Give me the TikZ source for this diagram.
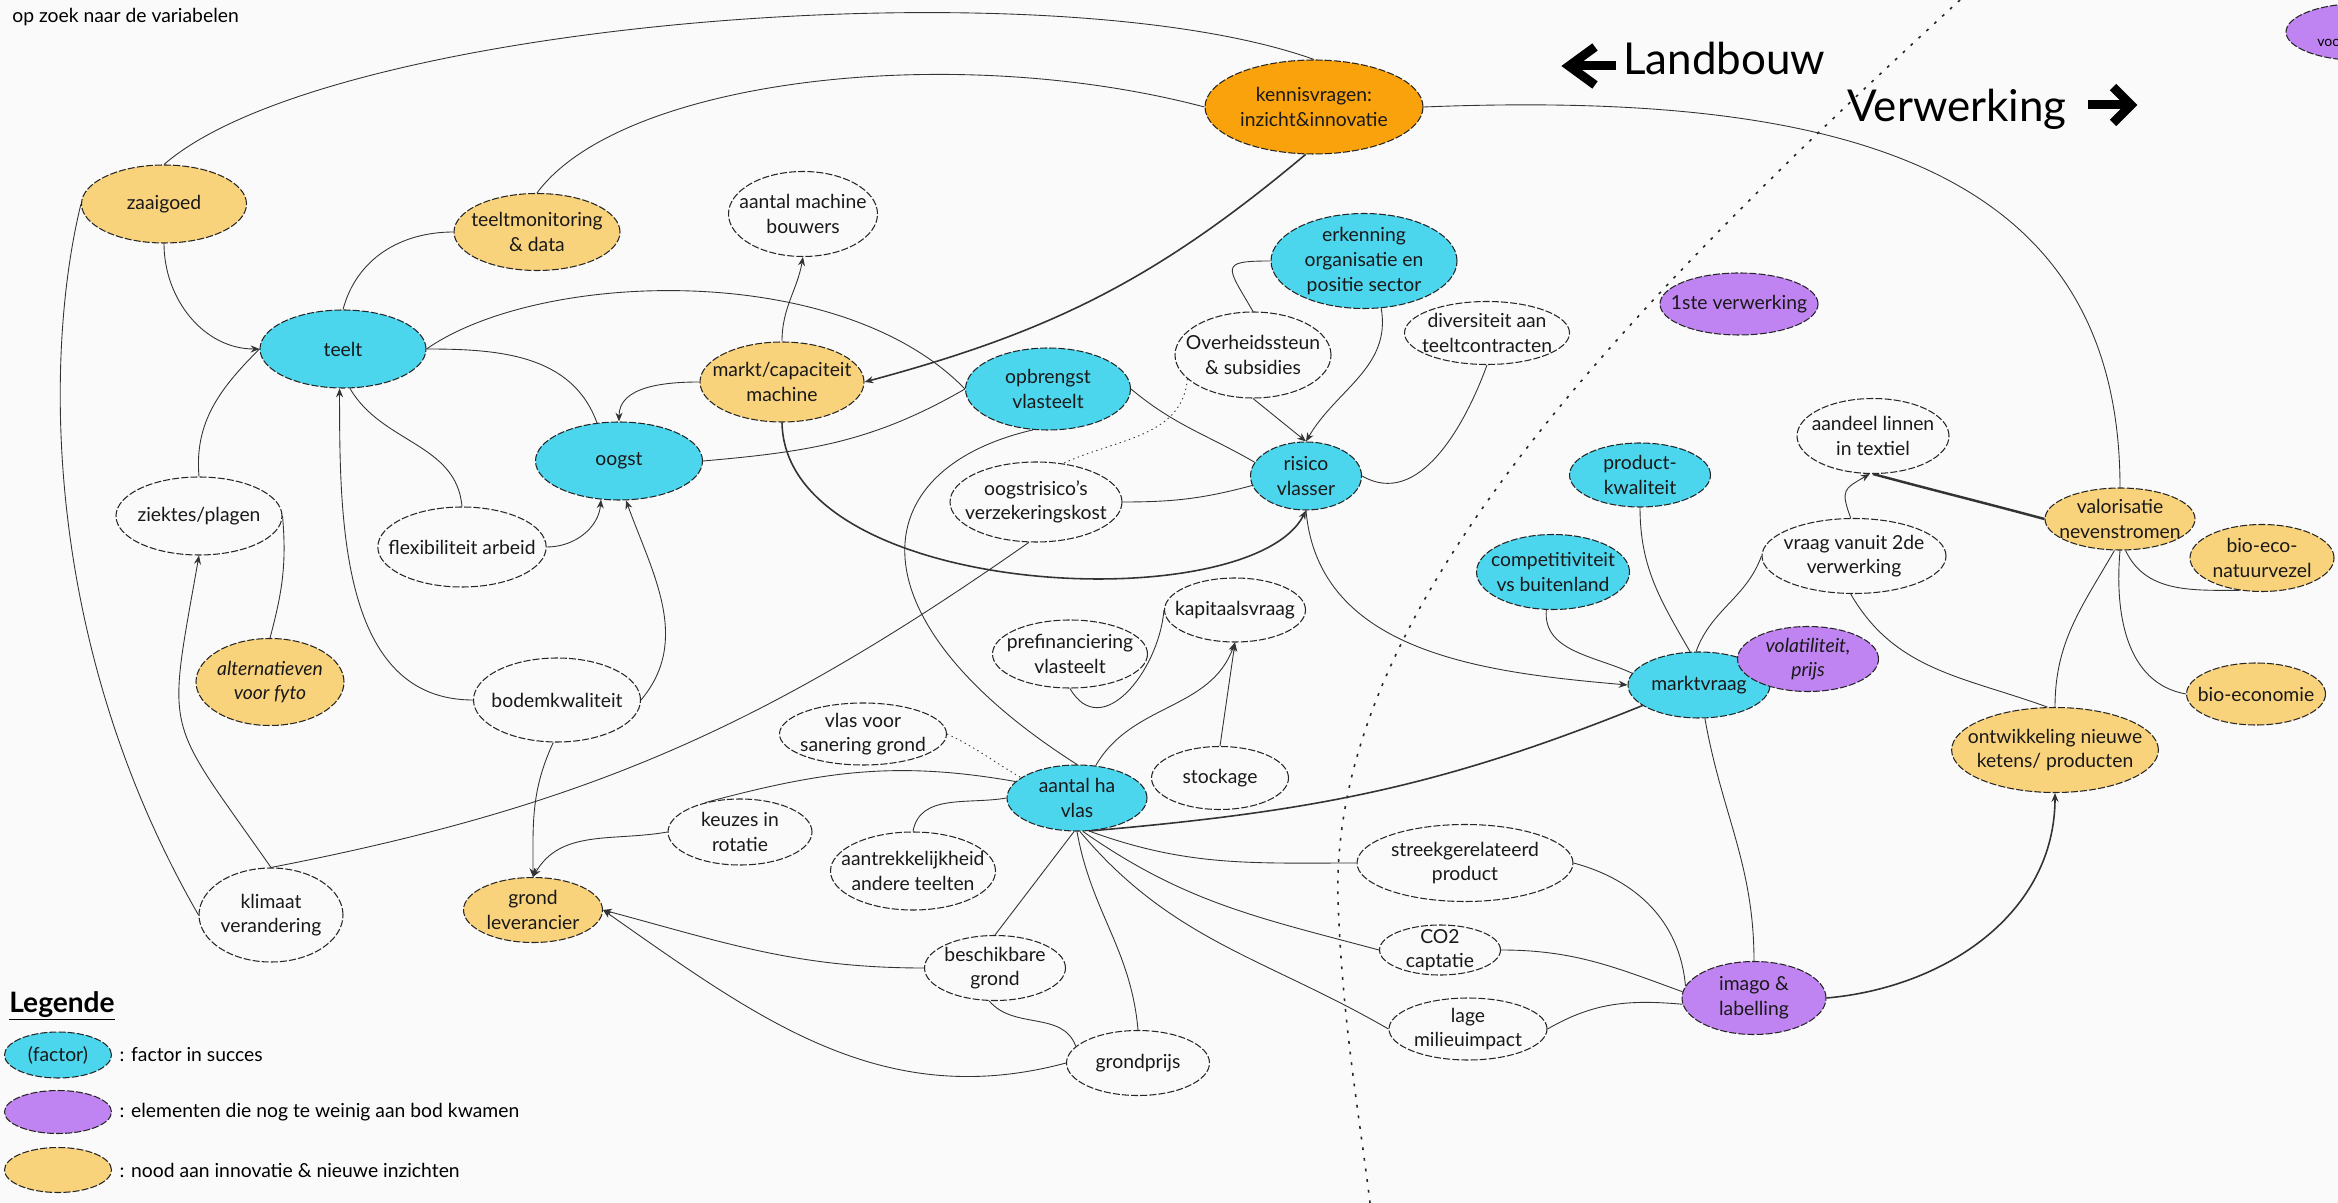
\documentclass[tikz,border=0pt]{standalone}
\usepackage{fontspec}
\setmainfont{Lato}
\usetikzlibrary{shapes.geometric,arrows.meta,positioning}

\definecolor{factorcol}{HTML}{4CD6EE}
\definecolor{gapcol}{HTML}{C084F2}
\definecolor{innovcol}{HTML}{F9D27C}
\definecolor{keycol}{HTML}{F9A20C}
\definecolor{bgcol}{HTML}{FAFAFA}

\begin{document}
\begin{tikzpicture}[x=0.2mm, y=-0.2mm,
                    font=\fontsize{11}{14}\selectfont,
                    every node/.style={align=center},
                    every edge/.style={draw=black!80, line width=0.5pt},
                    bubble/.style={ellipse, draw=black!85, line width=0.6pt,
                                   dash pattern=on 4pt off 1.2pt,
                                   inner xsep=-8pt, inner ysep=-2pt, text=black!90},
                    sz/.style 2 args={minimum width=#1*0.2mm, minimum height=#2*0.2mm},
                    factor node/.style={bubble, fill=factorcol},
                    gap node/.style={bubble, fill=gapcol},
                    innov node/.style={bubble, fill=innovcol},
                    key node/.style={bubble, fill=keycol},
                    plain node/.style={bubble, fill=bgcol},
                    conn/.style={draw=black!80, line width=0.5pt},
                    arr/.style={-{Stealth[length=5pt,width=4pt]}},
                    thk/.style={line width=0.9pt},
                    dotline/.style={dash pattern=on 0.8pt off 2pt},
                    divider/.style={draw=black!85, line width=0.9pt,
                                    dash pattern=on 1.6pt off 4.5pt},
                    bigarrow/.style={line width=1.8mm, line join=miter},
                    label/.style={inner sep=0pt}]

  \fill[bgcol] (0,0) rectangle (2338,1203);
  \useasboundingbox (0,0) rectangle (2338,1203);

  % border Landbouw / Verwerking
  \draw[divider] (1960,0) .. controls (1600,330) and (1330,620) .. (1338,900)
                 .. controls (1342,1020) and (1360,1120) .. (1370,1203);

  \node[label, anchor=base west] (zoek) at (12,23) {op zoek naar de variabelen};
  \node[label, anchor=base west, font=\fontsize{25}{30}\selectfont] (landbouw) at (1623,75) {Landbouw};
  \node[label, anchor=base west, font=\fontsize{25}{30}\selectfont] (verwerking) at (1847,122) {Verwerking};
  \draw[bigarrow] (1595,47) -- (1569,66) -- (1595,85);
  \draw[bigarrow] (1569,66) -- (1616,66);
  \draw[bigarrow] (2113,87) -- (2131,105) -- (2113,123);
  \draw[bigarrow] (2088,105) -- (2131,105);

  % teelt
  \node[innov node, sz={165}{78}] (zaaigoed) at (164,204) {zaaigoed};
  \node[innov node, sz={166}{77}] (teeltmon) at (537,232) {teeltmonitoring\\\& data};
  \node[factor node, sz={166}{78}] (teelt) at (343,349) {teelt};
  \node[plain node, sz={149}{85}] (machine) at (803,214) {aantal machine\\bouwers};
  \node[key node, sz={218}{94}] (kennis) at (1314,107) {kennisvragen:\\inzicht\&innovatie};
  \node[factor node, sz={186}{95}] (erkenning) at (1364,261) {erkenning\\organisatie en\\positie sector};
  \node[plain node, sz={156}{86}] (overheid) at (1253,355) {Overheidssteun\\\& subsidies};
  \node[plain node, sz={165}{63}] (divers) at (1487,333) {diversiteit aan\\teeltcontracten};
  \node[innov node, sz={164}{80}] (marktcap) at (782,382) {markt/capaciteit\\machine};
  \node[factor node, sz={165}{82}] (opbrengst) at (1048,389) {opbrengst\\vlasteelt};
  \node[factor node, sz={167}{78}] (oogst) at (619,461) {oogst};
  \node[factor node, sz={111}{68}] (risico) at (1306,476) {risico\\vlasser};
  \node[plain node, sz={172}{80}] (oogstrisico) at (1036,502) {oogstrisico's\\verzekeringskost};
  \node[plain node, sz={166}{78}] (ziektes) at (199,516) {ziektes/plagen};
  \node[plain node, sz={165}{80}] (flex) at (462,547) {flexibiliteit arbeid};
  \node[innov node, sz={148}{87}, font=\fontsize{11}{14}\selectfont\itshape] (altern) at (270,682) {alternatieven\\voor fyto};
  \node[plain node, sz={167}{84}] (bodem) at (557,700) {bodemkwaliteit};
  \node[plain node, sz={155}{68}] (prefin) at (1070,654) {prefinanciering\\vlasteelt};
  \node[plain node, sz={141}{64}] (kapitaal) at (1235,610) {kapitaalsvraag};
  \node[plain node, sz={167}{62}] (sanering) at (863,734) {vlas voor\\sanering grond};
  \node[factor node, sz={140}{66}] (aantalha) at (1077,798) {aantal ha\\vlas};
  \node[plain node, sz={137}{63}] (stockage) at (1220,778) {stockage};
  \node[plain node, sz={144}{66}] (keuzes) at (740,832) {keuzes in\\rotatie};
  \node[plain node, sz={165}{78}] (aantrek) at (913,871) {aantrekkelijkheid\\andere teelten};
  \node[plain node, sz={144}{94}] (klimaat) at (271,915) {klimaat\\verandering};
  \node[innov node, sz={139}{65}] (grondlev) at (533,910) {grond\\leverancier};
  \node[plain node, sz={141}{65}] (beschik) at (995,968) {beschikbare\\grond};
  \node[plain node, sz={143}{65}] (grondprijs) at (1138,1063) {grondprijs};

  % verwerking
  \node[plain node, sz={216}{77}] (streek) at (1465,863) {streekgerelateerd\\product};
  \node[plain node, sz={121}{50}] (co2) at (1440,950) {CO2\\captatie};
  \node[plain node, sz={158}{62}] (lage) at (1468,1029) {lage\\milieuimpact};
  \node[gap node, sz={144}{73}] (imago) at (1754,998) {imago \&\\labelling};
  \node[factor node, sz={142}{66}] (marktvraag) at (1699,685) {marktvraag};
  \node[gap node, sz={141}{65}, font=\fontsize{11}{14}\selectfont\itshape] (volat) at (1808,659) {volatiliteit,\\prijs};
  \node[factor node, sz={153}{75}] (compet) at (1553,572) {competitiviteit\\vs buitenland};
  \node[factor node, sz={141}{64}] (productk) at (1640,475) {product-\\kwaliteit};
  \node[gap node, sz={158}{62}] (eerste) at (1739,304) {1ste verwerking};
  \node[plain node, sz={152}{75}] (aandeel) at (1873,436) {aandeel linnen\\in textiel};
  \node[plain node, sz={184}{75}] (vraag) at (1854,556) {vraag vanuit 2de\\verwerking};
  \node[innov node, sz={150}{62}] (valor) at (2120,519) {valorisatie\\nevenstromen};
  \node[innov node, sz={144}{67}] (natuurvezel) at (2262,558) {bio-eco-\\natuurvezel};
  \node[innov node, sz={139}{62}] (bioeco) at (2256,694) {bio-economie};
  \node[innov node, sz={206}{85}] (ontwikkeling) at (2055,750) {ontwikkeling nieuwe\\ketens/ producten};
  \node[gap node, sz={150}{57}] (voo) at (2361,32) {};
  \node[label, anchor=base west, font=\fontsize{8}{10}\selectfont] (vootxt) at (2317,47) {voo};

  % legend
  \node[label, anchor=base west, font=\fontsize{16}{19}\selectfont\bfseries] (legende) at (9,1012) {\underline{Legende}};
  \node[factor node, sz={107}{46}] (lgfactor) at (58,1055) {(factor)};
  \node[gap node, sz={107}{43}] (lggap) at (58,1112) {};
  \node[innov node, sz={107}{45}] (lginnov) at (58,1170) {};
  \node[right=0.3mm of lgfactor] (lgtxt1) {: factor in succes};
  \node[right=0.3mm of lggap] (lgtxt2) {: elementen die nog te weinig aan bod kwamen};
  \node[right=0.3mm of lginnov] (lgtxt3) {: nood aan innovatie \& nieuwe inzichten};

  % long arcs
  \draw[conn] (zaaigoed.north) .. controls (330,20) and (1050,-35) .. (kennis.north);
  \draw[conn] (teeltmon.north) .. controls (620,80) and (950,40) .. (kennis.west);
  \draw[conn] (kennis.east) .. controls (1850,90) and (2120,170) .. (valor.north);
  \draw[conn] (zaaigoed.west) .. controls (45,350) and (40,640) .. (klimaat.west);
  \draw[conn] (teelt.east) .. controls (540,270) and (840,260) .. (opbrengst.west);
  \draw[conn, thk, arr] (marktcap.south) .. controls (785,600) and (1250,620) .. (risico.south);
  \draw[conn] (opbrengst.-110) .. controls (860,470) and (850,620) .. (aantalha.north);

  \path
    (zaaigoed) edge[arr, out=-90, in=180] (teelt.west)
    (teeltmon.west) edge[out=180, in=75] (teelt.north)
    (teelt.west) edge[out=-135, in=95] (ziektes.north)
    (teelt.east) edge[out=0, in=110] (oogst.120)
    (teelt.-80) edge[out=-60, in=95] (flex.north)
    (bodem.west) edge[arr, out=180, in=-90] (teelt.-95)
    (flex.east) edge[arr, out=0, in=-95] (oogst.-115)
    (bodem.east) edge[arr, out=50, in=-70] (oogst.-80)
    (oogst.east) edge[out=5, in=-150] (opbrengst.west)
    (marktcap.west) edge[arr, out=180, in=90] (oogst.north)
    (marktcap.north) edge[arr, out=90, in=-100] (machine.south)
    (kennis.-100) edge[arr, thk, out=-140, in=15] (marktcap.east)
    (opbrengst.east) edge[out=-40, in=150] (risico.165)
    (oogstrisico.east) edge[out=0, in=-165] (risico.190)
    (overheid.south) edge[arr] (risico.north)
    (erkenning.-70) edge[arr, out=-80, in=60] (risico.north)
    (erkenning.west) edge[out=180, in=120, looseness=2.5] (overheid.north)
    (divers.south) edge[out=-110, in=-30] (risico.east)
    (overheid.200) edge[dotline, out=-95, in=25] (oogstrisico.55)
    (risico.south) edge[arr, out=-85, in=175] (marktvraag.west);

  \path
    (marktvraag.200) edge[thk, out=-158, in=5] (aantalha.-70)
    (aantalha.-70) edge[out=-20, in=180] (streek.west)
    (aantalha.-80) edge[out=-35, in=165] (co2.west)
    (aantalha.-85) edge[out=-50, in=150] (lage.west)
    (aantalha.-90) edge[out=-80, in=95] (grondprijs.north)
    (aantalha.-95) edge (beschik.north)
    (aantalha.west) edge[out=-170, in=80] (aantrek.north)
    (aantalha.165) edge[out=170, in=15] (keuzes.140)
    (keuzes.west) edge[arr, out=-170, in=60] (grondlev.north)
    (bodem.-95) edge[arr, out=-115, in=90] (grondlev.north)
    (oogstrisico.-100) edge[out=-145, in=11] (klimaat.north)
    (klimaat.north) edge[arr, out=125, in=-100, looseness=1.5] (ziektes.south)
    (ziektes.east) edge[out=-85, in=75] (altern.north)
    (aantalha.60) edge[arr, out=60, in=-110] (kapitaal.south)
    (stockage.north) edge[arr] (kapitaal.south)
    (prefin.south) edge[out=-60, in=-95, looseness=1.3] (kapitaal.west)
    (sanering.east) edge[dotline, out=-25, in=150] (aantalha.160)
    (beschik.west) edge[arr, out=180, in=-15] (grondlev.east)
    (grondprijs.west) edge[arr, out=-165, in=-35] (grondlev.east)
    (beschik.-100) edge[out=-50, in=110] (grondprijs.165);

  \path
    (compet.-100) edge[out=-95, in=155] (marktvraag.170)
    (productk.south) edge[out=-90, in=120] (marktvraag.105)
    (vraag.west) edge[out=-110, in=70] (marktvraag.95)
    (marktvraag.-80) edge[out=-80, in=90] (imago.north)
    (vraag.-95) edge[out=-60, in=160] (ontwikkeling.100)
    (vraag.95) edge[arr, out=110, in=-150, looseness=1.6] (aandeel.-95)
    (aandeel.-90) edge[line width=1.4pt, out=-15, in=165] (valor.west)
    (valor.-100) edge[out=-120, in=90] (ontwikkeling.north)
    (valor.-90) edge[out=-95, in=170] (bioeco.west)
    (valor.-80) edge[out=-65, in=180] (natuurvezel.-125)
    (imago.east) edge[arr, thk, out=5, in=-90] (ontwikkeling.south)
    (streek.east) edge[out=-15, in=95] (imago.170)
    (co2.east) edge[out=0, in=160] (imago.175)
    (lage.east) edge[out=30, in=175] (imago.185);
\end{tikzpicture}
\end{document}
